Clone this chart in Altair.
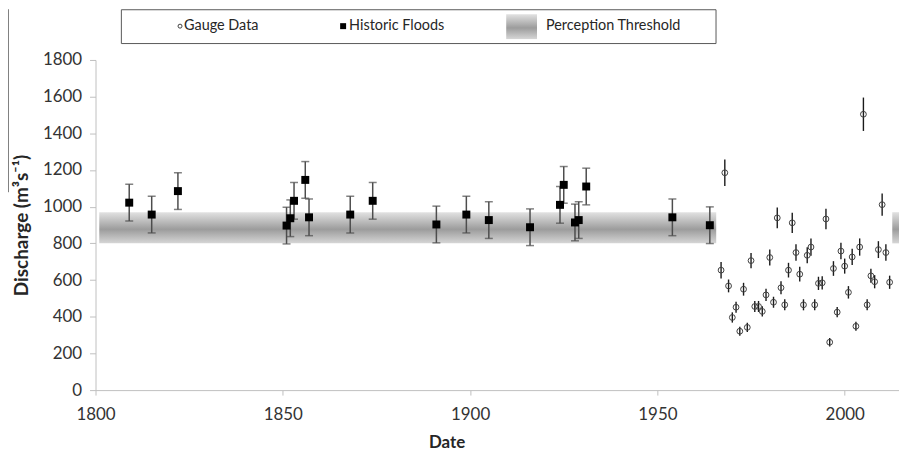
import altair as alt
import pandas as pd

# ---------------- data ----------------
HIST_YEAR = [1809, 1815, 1822, 1851, 1852, 1853, 1856, 1857, 1868, 1874,
             1891, 1899, 1905, 1916, 1924, 1925, 1928, 1929, 1931, 1954, 1964]
HIST_Q = [1022, 957, 1085, 897, 937, 1032, 1146, 942, 957, 1032,
          903, 957, 927, 888, 1010, 1119, 914, 927, 1110, 942, 899]
HIST_ERR = [100, 100, 100, 100, 100, 100, 100, 100, 100, 100,
            100, 100, 100, 100, 100, 100, 100, 100, 100, 100, 100]

GAUGE_YEAR = [1967, 1968, 1969, 1970, 1971, 1972, 1973, 1974, 1975, 1976,
              1977, 1978, 1979, 1980, 1981, 1982, 1983, 1984, 1985, 1986,
              1987, 1988, 1989, 1990, 1991, 1992, 1993, 1994, 1995, 1996,
              1997, 1998, 1999, 2000, 2001, 2002, 2003, 2004, 2005, 2006,
              2007, 2008, 2009, 2010, 2011, 2012]
GAUGE_Q = [654, 1185, 568, 396, 452, 321, 550, 342, 706, 456,
           456, 429, 519, 723, 479, 939, 558, 465, 654, 912,
           750, 632, 465, 735, 780, 465, 582, 585, 933, 261,
           663, 425, 758, 676, 533, 726, 348, 780, 1504, 465,
           623, 591, 766, 1011, 750, 588]
GAUGE_ERR = [45, 72, 35, 28, 30, 25, 35, 25, 42, 30,
             30, 28, 33, 43, 30, 56, 35, 30, 40, 55,
             45, 40, 30, 44, 47, 30, 36, 36, 56, 23,
             40, 28, 45, 41, 34, 44, 25, 47, 91, 30,
             38, 36, 46, 61, 45, 36]

BAND_START = [1801, 2012.7]
BAND_END = [1965.7, 2014.5]
BAND_LOW = [800, 800]
BAND_HIGH = [970, 970]

X_TICKS = [1800, 1850, 1900, 1950, 2000]
Y_TICKS = [0, 200, 400, 600, 800, 1000, 1200, 1400, 1600, 1800]

LEGEND_LABELS = ["Gauge Data", "Historic Floods", "Perception Threshold"]

# ---------------- tables ----------------
hist = pd.DataFrame({"year": HIST_YEAR, "q": HIST_Q, "err": HIST_ERR})
hist["lo"] = hist["q"] - hist["err"]
hist["hi"] = hist["q"] + hist["err"]
gauge = pd.DataFrame({"year": GAUGE_YEAR, "q": GAUGE_Q, "err": GAUGE_ERR})
gauge["lo"] = gauge["q"] - gauge["err"]
gauge["hi"] = gauge["q"] + gauge["err"]
band = pd.DataFrame({"x": BAND_START, "x2": BAND_END, "y": BAND_LOW, "y2": BAND_HIGH})
one = pd.DataFrame({"a": [0]})

FONT = "Lato"
grad = alt.Gradient(
    gradient="linear", x1=0, x2=0, y1=0, y2=1,
    stops=[alt.GradientStop(color="#e2e2e2", offset=0),
           alt.GradientStop(color="#9c9c9c", offset=0.55),
           alt.GradientStop(color="#d6d6d6", offset=1)],
)

xscale = alt.Scale(domain=[1800, 2014.5], nice=False, zero=False)
yscale = alt.Scale(domain=[0, 1800], nice=False)

xaxis = alt.Axis(values=X_TICKS, format="d", grid=False, domainColor="#bfbfbf",
                 tickColor="#bfbfbf", tickSize=5, labelFont=FONT, labelFontSize=17,
                 labelColor="#333333", labelPadding=12, labelFlush=False,
                 labelOverlap=False, title="Date", titleFont=FONT,
                 titleFontSize=17, titleFontWeight="bold", titleColor="#262626",
                 titleX=353, titleY=53, titleBaseline="middle", titleAlign="center")
yaxis = alt.Axis(values=Y_TICKS, format="d", grid=False, domainColor="#bfbfbf",
                 tickColor="#bfbfbf", labelOverlap=False, labelFlush=False,
                 tickSize=6, labelFont=FONT, labelFontSize=17, labelColor="#333333",
                 labelPadding=8, title="Discharge (m³s⁻¹)", titleFont=FONT,
                 titleFontSize=19, titleFontWeight="bold", titleColor="#262626",
                 titleAngle=-90, titleX=-74, titleY=166, titleAlign="center",
                 titleBaseline="middle")


def X(field):
    return alt.X(field, type="quantitative", scale=xscale, axis=xaxis)


def Y(field):
    return alt.Y(field, type="quantitative", scale=yscale, axis=yaxis)


band_layer = alt.Chart(band).mark_rect(color=grad).encode(
    x=X("x"), x2="x2:Q", y=Y("y"), y2="y2:Q")

hist_bar = alt.Chart(hist).mark_rule(color="#4d4d4d", strokeWidth=1.5).encode(
    x=X("year"), y=Y("lo"), y2="hi:Q")
hist_cap_hi = alt.Chart(hist).mark_tick(orient="horizontal", size=8, thickness=1.5,
                                        color="#4d4d4d").encode(x=X("year"), y=Y("hi"))
hist_cap_lo = alt.Chart(hist).mark_tick(orient="horizontal", size=8, thickness=1.5,
                                        color="#4d4d4d").encode(x=X("year"), y=Y("lo"))
hist_pts = alt.Chart(hist).mark_point(shape="square", filled=True, size=64,
                                      color="black", opacity=1).encode(x=X("year"), y=Y("q"))

gauge_bar = alt.Chart(gauge).mark_rule(color="#1a1a1a", strokeWidth=1.4).encode(
    x=X("year"), y=Y("lo"), y2="hi:Q")
gauge_pts = alt.Chart(gauge).mark_point(shape="circle", filled=False, size=34,
                                        stroke="#404040", strokeWidth=1,
                                        opacity=1).encode(x=X("year"), y=Y("q"))

# ---------------- legend box ----------------
leg_box = alt.Chart(one).mark_rect(fill="white", stroke="#595959", strokeWidth=1).encode(
    x=alt.value(26), x2=alt.value(624), y=alt.value(-50.5), y2=alt.value(-16.5))
leg_circle = alt.Chart(one).mark_point(shape="circle", filled=False, size=16,
                                       stroke="#404040", strokeWidth=1, opacity=1).encode(
    x=alt.value(85), y=alt.value(-34))
leg_square = alt.Chart(one).mark_point(shape="square", filled=True, size=36,
                                       color="black", opacity=1).encode(
    x=alt.value(249), y=alt.value(-34))
leg_swatch = alt.Chart(one).mark_rect(color=grad).encode(
    x=alt.value(413), x2=alt.value(444), y=alt.value(-46), y2=alt.value(-21))
leg_t1 = alt.Chart(one).mark_text(align="left", baseline="middle", font=FONT,
                                  fontSize=14.5, color="#262626").encode(
    x=alt.value(89), y=alt.value(-34), text=alt.value(LEGEND_LABELS[0]))
leg_t2 = alt.Chart(one).mark_text(align="left", baseline="middle", font=FONT,
                                  fontSize=14.5, color="#262626").encode(
    x=alt.value(255), y=alt.value(-34), text=alt.value(LEGEND_LABELS[1]))
leg_t3 = alt.Chart(one).mark_text(align="left", baseline="middle", font=FONT,
                                  fontSize=14.5, color="#262626").encode(
    x=alt.value(453), y=alt.value(-34), text=alt.value(LEGEND_LABELS[2]))

edge_line = alt.Chart(one).mark_rule(color="#7f7f7f", strokeWidth=1).encode(
    x=alt.value(-87.5), y=alt.value(-51), y2=alt.value(133))

chart = alt.layer(
    band_layer, hist_bar, hist_cap_hi, hist_cap_lo, hist_pts,
    gauge_bar, gauge_pts,
    leg_box, leg_circle, leg_square, leg_swatch, leg_t1, leg_t2, leg_t3, edge_line,
).properties(
    width=808, height=332,
    padding={"left": 88, "top": 51, "right": 0, "bottom": 62},
    autosize=alt.AutoSizeParams(type="none"),
    background="white",
).configure_view(stroke=None)

chart.save("out.html", embed_options={"renderer": "svg", "actions": False})
